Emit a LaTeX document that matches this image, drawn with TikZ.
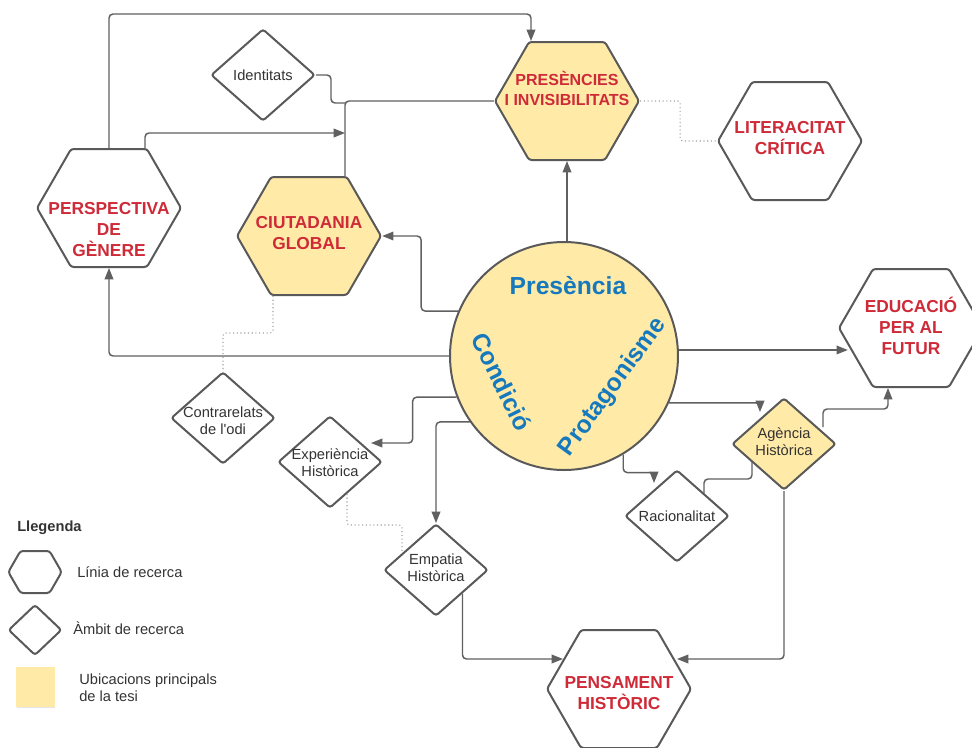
\documentclass[tikz,border=0pt]{standalone}
\usepackage{fontspec}
\setmainfont{Liberation Sans}
\newfontfamily\plainsans{Liberation Sans}
\usetikzlibrary{shapes.geometric,shapes.symbols,arrows.meta,calc,shadows}
\definecolor{hexline}{HTML}{595959}
\definecolor{conline}{HTML}{606060}
\definecolor{ylw}{HTML}{FFEAA7}
\definecolor{redtxt}{HTML}{CF2A38}
\definecolor{bluetxt}{HTML}{1679BE}
\definecolor{graytxt}{HTML}{333333}
\definecolor{dotline}{HTML}{A0A0A0}
\begin{document}
\begin{tikzpicture}[x=0.75pt,y=-0.75pt,
 hexa/.style={signal, signal to=east and west, signal pointer angle=120, draw=hexline, fill=white, line width=1.5pt, rounded corners=2pt, minimum width=108pt, minimum height=88.5pt, inner sep=0pt},
 ambit/.style={diamond, draw=hexline, fill=white, line width=1.5pt, rounded corners=2pt, minimum width=78pt, minimum height=69pt, inner sep=0pt},
 htext/.style={text=redtxt, font=\fontsize{13}{15.75}\selectfont\bfseries, align=center, inner sep=0pt},
 dtext/.style={text=graytxt, font=\fontsize{11}{12.75}\selectfont, align=center, inner sep=0pt},
 conn/.style={draw=conline, line width=1.1pt, rounded corners=3pt},
 arr/.style={-{Triangle[length=8.5pt,width=6.5pt]}},
 dots/.style={draw=dotline, line width=0.8pt, dotted, rounded corners=2pt},
 ctext/.style={text=bluetxt, font=\fontsize{18.5}{20}\selectfont\bfseries, inner sep=0pt}]
\clip (0,0) rectangle (972,747);
% main nodes
\node[circle, draw=hexline, fill=ylw, line width=1.5pt, minimum size=171pt, inner sep=0pt] (circ) at (564,356) {};
\node[ctext] (tpres) at (568,286) {Presència};
\node[ctext, rotate=-63.7] (tcond) at (502,382) {Condició};
\node[ctext, rotate=54] (tprot) at (613,387) {Protagonisme};

\node[hexa] (pg) at (109,208) {};
\node[htext] (tpg) at (109,230) {PERSPECTIVA\\DE\\GÈNERE};
\node[hexa, fill=ylw] (cg) at (309,236) {};
\node[htext] (tcg) at (309,233) {CIUTADANIA\\GLOBAL};
\node[hexa, fill=ylw] (pi) at (567,101) {};
\node[htext, font=\fontsize{12}{15}\selectfont\bfseries] (tpi) at (567,88) {PRESÈNCIES\\I INVISIBILITATS};
\node[hexa] (lc) at (790,141) {};
\node[htext] (tlc) at (790,138) {LITERACITAT\\CRÍTICA};
\node[hexa] (ef) at (911,328) {};
\node[htext] (tef) at (911,326) {EDUCACIÓ\\PER AL\\FUTUR};
\node[hexa] (ph) at (619,689) {};
\node[htext] (tph) at (619,693) {PENSAMENT\\HISTÒRIC};

\node[ambit] (id) at (263,75) {};
\node[dtext] (tid) at (263,75) {Identitats};
\node[ambit] (cr) at (223,418) {};
\node[dtext] (tcr) at (223,421) {Contrarelats\\{\plainsans de l'odi}};
\node[ambit] (eh) at (330,462) {};
\node[dtext] (teh) at (330,463) {Experiència\\Històrica};
\node[ambit] (em) at (436,570) {};
\node[dtext] (tem) at (436,568) {Empatia\\Històrica};
\node[ambit] (ra) at (677,516) {};
\node[dtext] (tra) at (677,516) {Racionalitat};
\node[ambit, fill=ylw] (ag) at (784,444) {};
\node[dtext] (tag) at (784,442) {Agència\\Històrica};

% connectors
\coordinate (cgtr) at ($(cg.north)+(36,0)$);
\coordinate (jA) at ($(cgtr)+(0,-43)$);
\coordinate (jB) at ($(cgtr)+(0,-73)$);
\coordinate (efin) at ($(ef.west)+(10,21)$);
\draw[conn,arr] (pg.north) -- ++(0,-134) -| ($(pi.north)+(-36,0)$);
\draw[conn,arr] ($(pg.north)+(36,0)$) |- (jA);
\draw[conn] (cgtr) |- (pi.west);
\draw[conn] (id.east) -- ++(15,0) |- (jB);
\draw[dots] (pi.east) -- ++(40,0) |- (lc.west);
\draw[conn,arr] (pi.south |- circ.north) -- (pi.south);
\draw[conn,arr] (circ.157) -| ($(cg.east)+(39,0)$) -- (cg.east);
\draw[conn,arr] (circ.west) -| (pg.south);
\draw[dots] ($(cg.south)+(-36,0)$) -- ++(0,37) -| (cr.north);
\draw[conn,arr] (circ.201) -- ++(-44,0) |- ($(eh.east)+(-12,-19)$);
\draw[conn,arr] (circ.215) -| (em.north);
\draw[dots] ($(eh.south)+(17,-15)$) -- ++(0,31) -| ($(em.west)+(19,-17)$);
\draw[conn,arr] (em.south east) |- ($(ph.center)+(-56,-30)$);
\draw[conn,arr] (ag.south) |- ($(ph.center)+(58,-30)$);
\draw[conn,arr] (circ.3.5) -- (circ.3.5 -| efin);
\draw[conn,arr] (circ.-24) -| ($(ag.north)+(-24,15)$);
\draw[conn,arr] ($(ag.east)+(-14,-17)$) -- ++(0,-18) -| ($(ef.south)+(-23,0)$);
\draw[conn,arr] (circ.-59) -- ++(0,18) -| ($(ra.north)+(-23,14)$);
\draw[conn] ($(ra.east)+(-26,-23)$) -- ++(0,-14) -| ($(ag.west)+(21,18)$);

% legend
\node[dtext, font=\fontsize{11}{13}\selectfont\bfseries, anchor=west] (lt) at (17,528) {Llegenda};
\node[hexa, minimum width=40pt, minimum height=31.5pt] (lh) at (35,572) {};
\node[dtext, anchor=west] (lht) at (77,572) {Línia de recerca};
\node[ambit, minimum width=40pt, minimum height=38pt] (ld) at (35,630) {};
\node[dtext, anchor=west] (ldt) at (73,628) {Àmbit de recerca};
\node[fill=ylw, minimum width=29pt, minimum height=30pt, inner sep=0pt, drop shadow={shadow xshift=0.4pt, shadow yshift=-0.8pt, opacity=0.2}] (ly) at (35.5,687) {};
\node[dtext, anchor=west, align=left] (lyt) at (79,688) {Ubicacions principals\\de la tesi};
\end{tikzpicture}
\end{document}
